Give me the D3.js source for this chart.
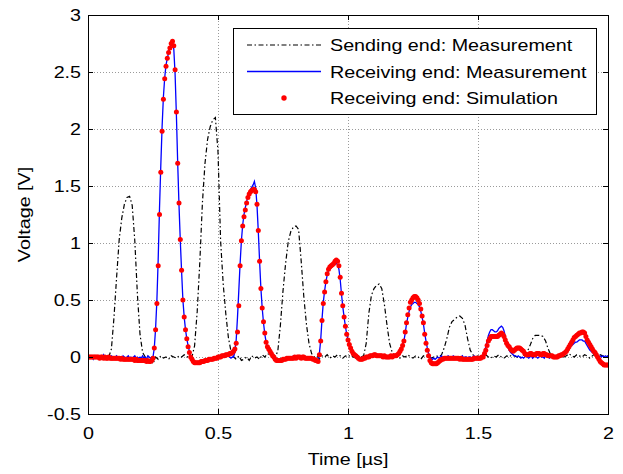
<!DOCTYPE html>
<html>
<head>
<meta charset="utf-8">
<script src="https://cdn.jsdelivr.net/npm/d3@7/dist/d3.min.js"></script>
<style>
	body { margin: 0; background: #fff; }
	#chart { width: 623px; height: 474px; }
	text { font-family: "Liberation Sans", Arial, sans-serif; font-size: 17px; fill: #000; }
</style>
</head>
<body>
<div id="chart"></div>
<script>
// sample spacing of each trace, in µs (traces start at t = 0)
var sendStep = 0.01;
var recvStep = 0.005;

// Sending end: Measurement (one row = 0.1 µs)
var sendingEnd = [
	0.01,0.00,0.01,-0.01,0.00,0.01,0.00,0.01,0.00,0.07,
	0.35,0.70,1.03,1.22,1.34,1.40,1.41,1.33,1.02,0.55,
	0.20,0.04,0.00,0.01,-0.01,-0.06,0.00,-0.02,0.01,-0.01,
	0.00,-0.02,0.01,0.00,-0.01,0.01,0.00,0.02,0.00,0.01,
	0.00,0.10,0.40,0.83,1.35,1.70,1.91,2.02,2.08,2.10,
	1.80,1.02,0.64,0.38,0.17,0.05,0.00,-0.02,0.01,-0.03,
	-0.02,0.00,-0.03,0.01,-0.01,0.00,-0.02,0.02,0.00,0.03,
	0.02,0.01,0.00,0.05,0.28,0.58,0.82,1.01,1.10,1.14,
	1.15,1.12,0.84,0.53,0.29,0.12,0.03,0.00,0.01,-0.02,
	0.01,0.00,0.02,-0.01,0.01,0.00,0.02,0.01,-0.01,0.01,
	0.00,0.02,0.00,-0.01,0.01,0.00,0.01,0.12,0.38,0.54,
	0.60,0.63,0.64,0.60,0.46,0.28,0.12,0.04,0.01,0.00,
	-0.01,0.01,0.00,0.02,0.00,-0.01,0.01,0.00,-0.02,0.01,
	0.00,0.01,-0.01,0.00,0.01,0.00,0.02,0.08,0.16,0.26,
	0.31,0.33,0.35,0.36,0.34,0.28,0.16,0.06,0.02,0.00,
	0.01,-0.01,0.00,0.02,0.00,-0.01,0.01,0.00,0.02,0.00,
	-0.01,0.01,0.00,0.02,0.01,0.00,-0.01,0.01,0.02,0.05,
	0.10,0.16,0.19,0.19,0.19,0.18,0.14,0.07,0.02,0.00,
	0.01,-0.01,0.02,0.00,0.01,0.03,0.01,0.00,0.02,0.01,
	0.00,0.02,0.01,-0.01,0.01,0.03,0.00,0.02,0.01,0.00,
	0.01
];

// Receiving end: Measurement (one row = 0.1 µs)
var receivingMeas = [
	0.00,-0.01,0.01,0.00,-0.02,0.01,0.00,-0.01,0.00,0.01,-0.01,0.00,0.02,-0.01,0.00,0.01,-0.01,0.00,0.01,0.00,
	-0.01,0.00,0.01,-0.01,0.00,0.00,-0.02,0.01,0.00,-0.01,0.00,0.01,-0.01,0.00,-0.01,0.00,0.01,-0.01,0.00,-0.01,
	0.00,-0.01,0.01,-0.01,0.00,-0.02,0.01,0.00,-0.01,0.00,0.00,0.08,0.25,0.50,0.86,1.30,1.68,2.02,2.28,2.45,
	2.56,2.62,2.67,2.71,2.74,2.75,2.70,2.48,2.12,1.70,1.33,1.02,0.75,0.50,0.35,0.24,0.16,0.10,0.05,0.01,
	-0.02,-0.03,-0.04,-0.05,-0.04,-0.05,-0.04,-0.04,-0.03,-0.04,-0.03,-0.02,-0.03,-0.02,-0.02,-0.01,-0.02,-0.01,0.00,-0.01,
	0.00,0.01,0.00,0.01,0.02,0.01,0.02,0.01,0.02,0.00,-0.01,0.00,0.00,0.05,0.15,0.35,0.58,0.82,1.02,1.16,
	1.25,1.31,1.36,1.41,1.44,1.47,1.49,1.51,1.54,1.48,1.33,1.10,0.84,0.60,0.43,0.30,0.20,0.13,0.08,0.05,
	0.03,0.02,0.00,-0.01,-0.02,-0.02,-0.03,-0.02,-0.03,-0.02,-0.01,-0.02,-0.01,0.00,-0.01,0.00,-0.01,0.00,0.01,0.00,
	0.00,0.01,0.00,-0.01,0.00,0.01,0.00,-0.01,0.00,-0.01,0.00,-0.01,-0.02,-0.01,-0.02,-0.03,-0.02,-0.03,0.03,0.15,
	0.33,0.48,0.58,0.66,0.72,0.76,0.78,0.79,0.80,0.81,0.82,0.82,0.81,0.77,0.68,0.55,0.44,0.35,0.27,0.20,
	0.15,0.11,0.08,0.05,0.03,0.02,0.01,0.00,0.00,-0.01,-0.01,0.00,-0.01,0.00,0.01,0.00,0.01,0.02,0.00,0.01,
	0.01,0.02,0.00,0.01,0.02,0.00,0.01,0.00,0.01,0.00,-0.01,0.01,0.00,0.01,0.00,0.00,0.01,0.00,0.02,0.03,
	0.05,0.07,0.10,0.14,0.21,0.29,0.35,0.40,0.44,0.46,0.47,0.48,0.48,0.47,0.46,0.44,0.40,0.35,0.29,0.21,
	0.14,0.08,0.03,0.00,-0.01,-0.02,-0.01,-0.02,-0.01,0.00,-0.01,0.00,0.01,-0.01,0.00,0.00,-0.01,0.01,0.00,-0.01,
	0.00,0.01,0.00,-0.01,0.00,0.00,-0.01,0.00,0.01,-0.01,0.00,0.00,-0.01,0.00,0.00,-0.01,0.00,0.01,0.00,-0.01,
	0.00,0.00,-0.01,0.01,0.02,0.05,0.09,0.14,0.19,0.22,0.24,0.24,0.23,0.22,0.22,0.23,0.25,0.26,0.27,0.26,
	0.23,0.18,0.13,0.09,0.06,0.04,0.03,0.02,0.01,0.01,0.00,0.01,0.00,-0.01,0.00,-0.01,0.00,0.01,0.00,-0.01,
	0.00,0.01,-0.01,0.00,0.01,0.00,-0.01,0.00,0.01,0.00,0.00,-0.01,0.01,0.00,0.00,-0.01,0.00,0.01,0.00,0.00,
	-0.01,0.00,0.01,0.00,0.01,0.02,0.02,0.03,0.04,0.05,0.07,0.09,0.10,0.11,0.12,0.13,0.13,0.14,0.15,0.15,
	0.15,0.14,0.14,0.12,0.10,0.08,0.06,0.05,0.04,0.03,0.02,0.01,0.01,0.00,0.01,0.00,0.01,0.00,0.01,0.00,
	0.01
];

// Receiving end: Simulation (one row = 0.1 µs)
var receivingSim = [
	0.00,0.00,0.00,0.00,0.00,0.00,0.00,0.00,0.00,-0.01,0.00,0.00,-0.01,0.00,-0.01,-0.01,0.00,-0.01,-0.01,-0.01,
	-0.01,-0.01,-0.01,-0.01,-0.01,-0.02,-0.01,-0.02,-0.02,-0.02,-0.02,-0.02,-0.02,-0.02,-0.02,-0.02,-0.03,-0.02,-0.03,-0.03,
	-0.03,-0.03,-0.03,-0.03,-0.03,-0.04,-0.03,-0.04,-0.04,-0.03,-0.01,0.08,0.24,0.47,0.80,1.25,1.62,1.98,2.26,2.44,
	2.55,2.62,2.67,2.71,2.75,2.77,2.73,2.52,2.15,1.70,1.35,1.03,0.76,0.50,0.35,0.24,0.16,0.09,0.04,0.00,
	-0.02,-0.04,-0.05,-0.05,-0.05,-0.05,-0.05,-0.04,-0.04,-0.04,-0.03,-0.03,-0.03,-0.02,-0.02,-0.02,-0.02,-0.01,-0.01,-0.01,
	0.00,0.00,0.00,0.01,0.01,0.01,0.02,0.02,0.02,0.03,0.03,0.04,0.05,0.07,0.12,0.22,0.45,0.80,1.02,1.15,
	1.23,1.29,1.35,1.40,1.43,1.45,1.46,1.47,1.47,1.45,1.34,1.11,0.84,0.60,0.43,0.31,0.21,0.13,0.09,0.07,
	0.05,0.03,0.01,0.00,-0.02,-0.03,-0.03,-0.03,-0.03,-0.03,-0.02,-0.02,-0.02,-0.01,-0.01,-0.01,-0.01,-0.01,-0.01,0.00,
	-0.01,0.00,0.00,0.00,-0.01,0.00,0.00,-0.01,-0.01,-0.01,-0.01,-0.01,-0.01,-0.02,-0.02,-0.03,-0.03,-0.04,0.02,0.14,
	0.32,0.47,0.57,0.66,0.73,0.77,0.79,0.80,0.81,0.82,0.84,0.85,0.84,0.80,0.70,0.56,0.45,0.35,0.27,0.20,
	0.15,0.11,0.08,0.05,0.03,0.02,0.01,0.00,-0.01,-0.02,-0.02,-0.02,-0.01,-0.01,0.00,0.00,0.00,0.01,0.01,0.01,
	0.02,0.02,0.01,0.01,0.01,0.01,0.01,0.00,0.01,0.00,0.00,0.00,0.00,0.01,0.00,0.01,0.01,0.01,0.02,0.03,
	0.05,0.07,0.10,0.14,0.22,0.30,0.37,0.43,0.48,0.50,0.52,0.53,0.53,0.52,0.50,0.47,0.42,0.36,0.30,0.20,
	0.12,0.06,0.01,-0.03,-0.05,-0.06,-0.06,-0.06,-0.06,-0.05,-0.04,-0.03,-0.02,-0.02,-0.01,-0.01,-0.01,-0.01,-0.01,-0.01,
	-0.01,-0.01,-0.01,-0.01,-0.01,-0.01,-0.02,-0.01,-0.02,-0.02,-0.02,-0.02,-0.02,-0.02,-0.02,-0.02,-0.02,-0.01,-0.01,-0.01,
	-0.01,-0.01,-0.01,0.00,0.00,0.03,0.06,0.10,0.14,0.16,0.18,0.18,0.18,0.18,0.18,0.18,0.19,0.20,0.21,0.20,
	0.18,0.15,0.12,0.10,0.09,0.07,0.06,0.05,0.06,0.07,0.08,0.08,0.08,0.07,0.06,0.05,0.03,0.02,0.02,0.02,
	0.03,0.03,0.02,0.02,0.02,0.03,0.03,0.03,0.02,0.02,0.03,0.03,0.02,0.02,0.01,0.01,0.01,0.01,0.00,0.00,
	0.00,0.00,0.01,0.01,0.02,0.02,0.03,0.04,0.05,0.07,0.09,0.11,0.13,0.15,0.17,0.18,0.19,0.20,0.21,0.21,
	0.22,0.22,0.21,0.18,0.15,0.13,0.11,0.09,0.07,0.05,0.04,0.02,0.00,-0.02,-0.04,-0.05,-0.06,-0.07,-0.07,-0.07,
	-0.07
];

var xTicks = [0, 0.5, 1, 1.5, 2];
var yTicks = [-0.5, 0, 0.5, 1, 1.5, 2, 2.5, 3];
var xDomain = [0, 2];
var yDomain = [-0.5, 3];
var xLabel = "Time [µs]";
var yLabel = "Voltage [V]";
var legendLabels = [
	"Sending end: Measurement",
	"Receiving end: Measurement",
	"Receiving end: Simulation"
];

// the figure's lettering is a bit wider than Arial
var TEXT_STRETCH = "scale(1.16,1)";
var DASH_DOT = "5,2.5,1.5,2.5";

var WaveChart = function(config){
	// Set defaults
	this.targetId = null;
	this.margin = {top: 15, right: 15, bottom: 60, left: 88};

	// Load in config
	Object.keys(config).forEach(key => this[key] = config[key]);

	this.setupSVG();
	this.setupData();
	this.setupScales();
	this.setupAxes();
	this.plot();
	this.drawLegend();
}

WaveChart.prototype.setupSVG = function(){
	this.width = 623;
	this.height = 474;
	this.chartWidth = this.width - this.margin.left - this.margin.right;
	this.chartHeight = this.height - this.margin.top - this.margin.bottom;

	this.svg = d3.select("#" + this.targetId)
		.append("svg")
		.attr("width", this.width)
		.attr("height", this.height);

	this.svg.append("rect")
		.attr("width", this.width)
		.attr("height", this.height)
		.attr("fill", "#fff");

	this.g = this.svg.append("g")
		.attr("transform", `translate(${this.margin.left}, ${this.margin.top})`);

	this.g.append("clipPath")
		.attr("id", "plotClip")
		.append("rect")
		.attr("width", this.chartWidth)
		.attr("height", this.chartHeight);
}

/**
Turns the value arrays into {t, v} points using each trace's sample step
*/
WaveChart.prototype.setupData = function(){
	this.sending = sendingEnd.map((v, i) => ({t: i * sendStep, v: v}));
	this.meas = receivingMeas.map((v, i) => ({t: i * recvStep, v: v}));
	this.sim = receivingSim.map((v, i) => ({t: i * recvStep, v: v}));
}

WaveChart.prototype.setupScales = function(){
	this.x = d3.scaleLinear().domain(xDomain).range([0, this.chartWidth]);
	this.y = d3.scaleLinear().domain(yDomain).range([this.chartHeight, 0]);
}

WaveChart.prototype.setupAxes = function(){
	let w = this.chartWidth, h = this.chartHeight;

	// dotted grid
	let grid = this.g.append("g").attr("class", "grid");
	grid.selectAll(".gx")
		.data(xTicks.slice(1, -1))
		.enter().append("line")
		.attr("x1", d => this.x(d)).attr("x2", d => this.x(d))
		.attr("y1", 0).attr("y2", h);
	grid.selectAll(".gy")
		.data(yTicks.slice(1, -1))
		.enter().append("line")
		.attr("x1", 0).attr("x2", w)
		.attr("y1", d => this.y(d)).attr("y2", d => this.y(d));
	grid.selectAll("line")
		.attr("stroke", "#9a9a9a")
		.attr("stroke-width", 1)
		.attr("stroke-dasharray", "1,2")
		.attr("shape-rendering", "crispEdges");

	this.plotLayer = this.g.append("g").attr("clip-path", "url(#plotClip)");

	// inward ticks on all four sides, matlab style
	let fmt = d => String(d);
	this.xAxisG = this.g.append("g")
		.attr("transform", `translate(0, ${h})`)
		.call(d3.axisBottom(this.x).tickValues(xTicks).tickFormat(fmt)
			.tickSizeInner(-5).tickSizeOuter(0).tickPadding(13));
	this.yAxisG = this.g.append("g")
		.call(d3.axisLeft(this.y).tickValues(yTicks).tickFormat(fmt)
			.tickSizeInner(-5).tickSizeOuter(0).tickPadding(6));
	this.g.append("g")
		.call(d3.axisTop(this.x).tickValues(xTicks).tickFormat("")
			.tickSizeInner(-5).tickSizeOuter(0));
	this.g.append("g")
		.attr("transform", `translate(${w}, 0)`)
		.call(d3.axisRight(this.y).tickValues(yTicks).tickFormat("")
			.tickSizeInner(-5).tickSizeOuter(0));

	this.g.selectAll(".domain").remove();
	this.g.selectAll(".tick line").attr("stroke", "#000");
	this.g.selectAll(".tick text")
		.attr("font-family", null)
		.attr("font-size", null)
		.attr("fill", "#000")
		.attr("transform", TEXT_STRETCH);

	// axes box
	this.g.append("rect")
		.attr("width", w)
		.attr("height", h)
		.attr("fill", "none")
		.attr("stroke", "#000")
		.attr("shape-rendering", "crispEdges");

	// Add labels
	this.g.append("text")
		.attr("transform", `translate(${w / 2}, ${h + 51}) ${TEXT_STRETCH}`)
		.style("text-anchor", "middle")
		.text(xLabel);

	this.g.append("text")
		.attr("transform", `translate(-58, ${h / 2}) rotate(-90) ${TEXT_STRETCH}`)
		.style("text-anchor", "middle")
		.text(yLabel);
}

WaveChart.prototype.plot = function(){
	let line = d3.line()
		.x(d => this.x(d.t))
		.y(d => this.y(d.v));

	this.plotLayer.append("path")
		.datum(this.sending)
		.attr("d", line)
		.attr("fill", "none")
		.attr("stroke", "#000")
		.attr("stroke-width", 1.2)
		.attr("stroke-dasharray", DASH_DOT);

	this.plotLayer.append("path")
		.datum(this.meas)
		.attr("d", line)
		.attr("fill", "none")
		.attr("stroke", "#0000ff")
		.attr("stroke-width", 1.3);

	this.plotLayer.selectAll(".simPoint")
		.data(this.sim)
		.enter().append("circle")
		.attr("class", "simPoint")
		.attr("cx", d => this.x(d.t))
		.attr("cy", d => this.y(d.v))
		.attr("r", 2.5)
		.attr("fill", "#ff0000");
}

WaveChart.prototype.drawLegend = function(){
	let lg = this.svg.append("g").attr("transform", "translate(233, 28)");

	lg.append("rect")
		.attr("width", 363)
		.attr("height", 86)
		.attr("fill", "#fff")
		.attr("stroke", "#000")
		.attr("shape-rendering", "crispEdges");

	let rowY = [17, 43.5, 70];

	lg.append("line")
		.attr("x1", 14).attr("x2", 88)
		.attr("y1", rowY[0]).attr("y2", rowY[0])
		.attr("stroke", "#000")
		.attr("stroke-width", 1.2)
		.attr("stroke-dasharray", DASH_DOT);
	lg.append("line")
		.attr("x1", 14).attr("x2", 88)
		.attr("y1", rowY[1]).attr("y2", rowY[1])
		.attr("stroke", "#0000ff")
		.attr("stroke-width", 1.3);
	lg.append("circle")
		.attr("cx", 51).attr("cy", rowY[2])
		.attr("r", 2.7)
		.attr("fill", "#ff0000");

	lg.selectAll(".legendText")
		.data(legendLabels)
		.enter().append("text")
		.attr("class", "legendText")
		.attr("transform", (d, i) => `translate(97, ${rowY[i] + 6}) ${TEXT_STRETCH}`)
		.text(d => d);
}

var chart = new WaveChart({targetId: "chart"});
</script>
</body>
</html>
